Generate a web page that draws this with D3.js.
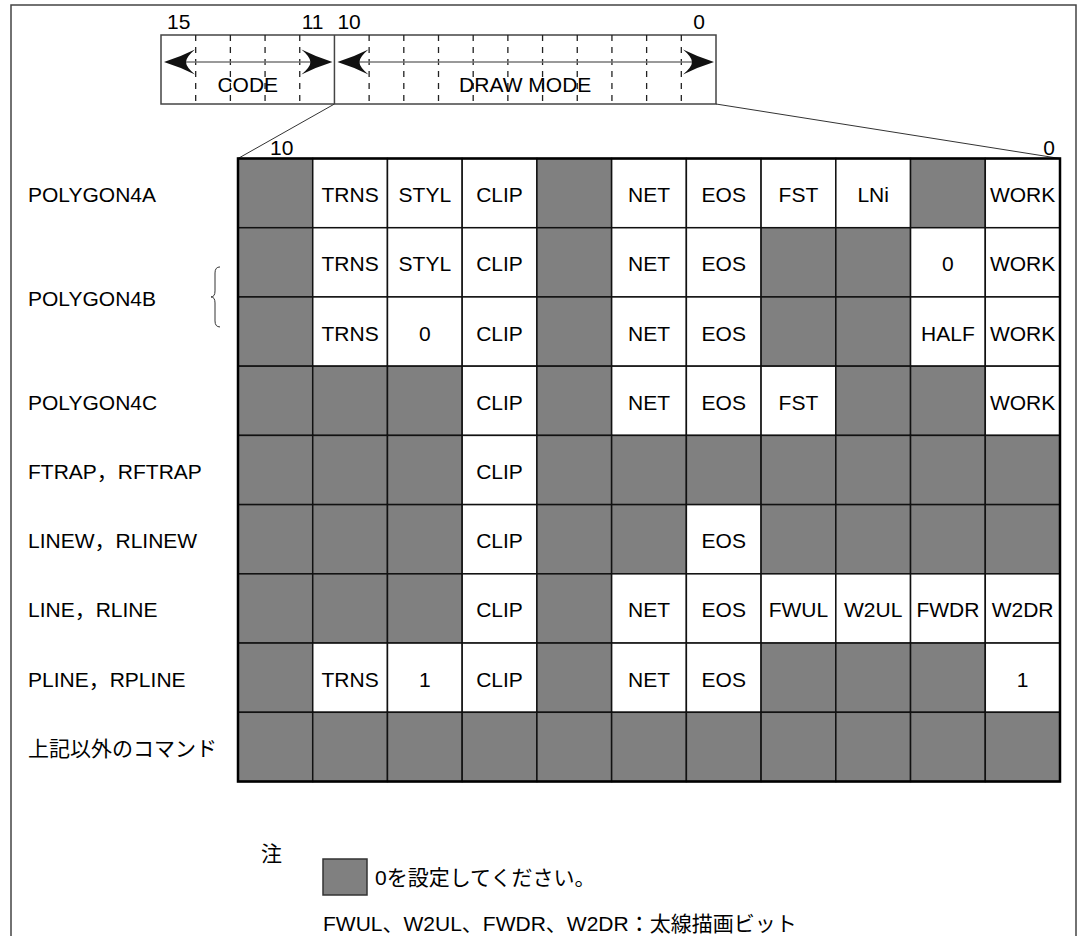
<!DOCTYPE html>
<html><head><meta charset="utf-8">
<script src="https://cdn.jsdelivr.net/npm/d3@7"></script>
<style>
html,body{margin:0;padding:0;background:#fff;}
svg{display:block;}
text{font-family:"Liberation Sans","Noto Sans CJK JP",Arial,sans-serif;fill:#000;}
</style></head>
<body>
<svg id="c" width="1080" height="936"></svg>
<script>
// ---- data ----
const registerBits = [15,14,13,12,11,10,9,8,7,6,5,4,3,2,1,0];
const registerFields = [
  {name:"CODE", hi:15, lo:11},
  {name:"DRAW MODE", hi:10, lo:0}
];
const registerTickLabels = [
  {bit:15, label:"15", side:"hi"},
  {bit:11, label:"11", side:"lo"},
  {bit:10, label:"10", side:"hi"},
  {bit:0,  label:"0",  side:"lo"}
];
const gridBits = [10,9,8,7,6,5,4,3,2,1,0];
const rowKeys = ["r1","r2","r3","r4","r5","r6","r7","r8","r9"];
const rowLabels = [
  {label:"POLYGON4A", rows:["r1"]},
  {label:"POLYGON4B", rows:["r2","r3"], brace:true},
  {label:"POLYGON4C", rows:["r4"]},
  {label:"FTRAP，RFTRAP", rows:["r5"]},
  {label:"LINEW，RLINEW", rows:["r6"]},
  {label:"LINE，RLINE", rows:["r7"]},
  {label:"PLINE，RPLINE", rows:["r8"]},
  {label:"上記以外のコマンド", rows:["r9"]}
];
// null = reserved (set to 0), shown grey
const cells = {
  r1:[null,"TRNS","STYL","CLIP",null,"NET","EOS","FST","LNi",null,"WORK"],
  r2:[null,"TRNS","STYL","CLIP",null,"NET","EOS",null,null,"0","WORK"],
  r3:[null,"TRNS","0","CLIP",null,"NET","EOS",null,null,"HALF","WORK"],
  r4:[null,null,null,"CLIP",null,"NET","EOS","FST",null,null,"WORK"],
  r5:[null,null,null,"CLIP",null,null,null,null,null,null,null],
  r6:[null,null,null,"CLIP",null,null,"EOS",null,null,null,null],
  r7:[null,null,null,"CLIP",null,"NET","EOS","FWUL","W2UL","FWDR","W2DR"],
  r8:[null,"TRNS","1","CLIP",null,"NET","EOS",null,null,null,"1"],
  r9:[null,null,null,null,null,null,null,null,null,null,null]
};
const gridTickLabels = [{bit:10,label:"10"},{bit:0,label:"0"}];
const noteMark = "注";
const noteGrey = "0を設定してください。";
const noteBits = "FWUL、W2UL、FWDR、W2DR：太線描画ビット";

// ---- drawing ----
const GREY = "#808080";
const FS = 21;
const svg = d3.select("#c");

// outer frame
svg.append("path").attr("d","M11,940 L11,5 L1076,5 L1076,940")
  .attr("fill","none").attr("stroke","#444").attr("stroke-width",1.5);

// register
const rx = d3.scaleLinear().domain([16,0]).range([161,716]);
const regTop = 35, regBot = 104, arrowY = 62;
const reg = svg.append("g");
reg.append("rect").attr("x",rx(16)).attr("y",regTop).attr("width",rx(0)-rx(16)).attr("height",regBot-regTop)
  .attr("fill","#fff").attr("stroke","#444").attr("stroke-width",1.5);
// dashed bit boundaries
const edges = d3.range(1,16).filter(e=>e!==11);
reg.selectAll("line.dash").data(edges).join("line")
  .attr("x1",d=>rx(d)).attr("x2",d=>rx(d)).attr("y1",regTop).attr("y2",regBot)
  .attr("stroke","#222").attr("stroke-width",1.3).attr("stroke-dasharray","6,6");
reg.append("line").attr("x1",rx(11)).attr("x2",rx(11)).attr("y1",regTop).attr("y2",regBot)
  .attr("stroke","#444").attr("stroke-width",1.5);
// field arrows
registerFields.forEach(f=>{
  const x1 = rx(f.hi+1)+3, x2 = rx(f.lo)-2;
  reg.append("line").attr("x1",x1+20).attr("x2",x2-20).attr("y1",arrowY).attr("y2",arrowY)
    .attr("stroke","#777").attr("stroke-width",1.5);
  const head = (tip,dir)=>`M${tip},${arrowY} Q${tip+dir*16},${arrowY-5} ${tip+dir*31},${arrowY-12.5} Q${tip+dir*22},${arrowY-5} ${tip+dir*22},${arrowY} Q${tip+dir*22},${arrowY+5} ${tip+dir*31},${arrowY+12.5} Q${tip+dir*16},${arrowY+5} ${tip},${arrowY} Z`;
  reg.append("path").attr("d",head(x1,1)).attr("fill","#111");
  reg.append("path").attr("d",head(x2,-1)).attr("fill","#111");
  reg.append("text").attr("x",(rx(f.hi+1)+rx(f.lo))/2).attr("y",92)
    .attr("text-anchor","middle").attr("font-size",FS).text(f.name);
});
registerTickLabels.forEach(t=>{
  const x = t.side==="hi" ? rx(t.bit+1)+(t.bit===15?6:3) : rx(t.bit)-11;
  reg.append("text").attr("x",x).attr("y",29).attr("font-size",FS)
    .attr("text-anchor", t.side==="hi" ? "start":"end").text(t.label);
});

// grid
const gx = d3.scaleBand().domain(gridBits).range([238,1060]);
const gy = d3.scaleBand().domain(rowKeys).range([158.5,781.5]);
// zoom lines
svg.append("line").attr("x1",rx(11)).attr("y1",regBot).attr("x2",gx(10)).attr("y2",gy("r1"))
  .attr("stroke","#333").attr("stroke-width",1);
svg.append("line").attr("x1",rx(0)).attr("y1",regBot).attr("x2",gx(0)+gx.bandwidth()).attr("y2",gy("r1"))
  .attr("stroke","#333").attr("stroke-width",1);
gridTickLabels.forEach(t=>{
  const x = t.bit===10 ? gx(t.bit)+32 : gx(t.bit)+gx.bandwidth()-5;
  svg.append("text").attr("x",x).attr("y",155).attr("font-size",FS)
    .attr("text-anchor", t.bit===10?"start":"end").text(t.label);
});

const cellData = [];
rowKeys.forEach(r=>cells[r].forEach((v,i)=>cellData.push({row:r,bit:gridBits[i],v})));
const grid = svg.append("g");
grid.selectAll("rect.cell").data(cellData).join("rect")
  .attr("x",d=>gx(d.bit)).attr("y",d=>gy(d.row))
  .attr("width",gx.bandwidth()).attr("height",gy.bandwidth())
  .attr("fill",d=>d.v===null?GREY:"#fff")
  .attr("stroke","#111").attr("stroke-width",1.5);
grid.selectAll("text.cell").data(cellData.filter(d=>d.v!==null)).join("text")
  .attr("x",d=>gx(d.bit)+gx.bandwidth()/2).attr("y",d=>gy(d.row)+gy.bandwidth()/2+9)
  .attr("text-anchor","middle").attr("font-size",FS).text(d=>d.v);
grid.append("rect").attr("x",gx(10)).attr("y",gy("r1"))
  .attr("width",gx(0)+gx.bandwidth()-gx(10)).attr("height",gy("r9")+gy.bandwidth()-gy("r1"))
  .attr("fill","none").attr("stroke","#000").attr("stroke-width",2.5);

// row labels
rowLabels.forEach(l=>{
  const top = gy(l.rows[0]), bot = gy(l.rows[l.rows.length-1])+gy.bandwidth();
  const cy = (top+bot)/2;
  svg.append("text").attr("x",28).attr("y",cy+9).attr("font-size",FS).text(l.label);
  if(l.brace){
    const y0 = cy-30, y1 = cy+30, xb = 215;
    svg.append("path")
      .attr("d",`M${xb+5},${y0} Q${xb},${y0} ${xb},${y0+6} L${xb},${cy-6} Q${xb},${cy} ${xb-4},${cy} Q${xb},${cy} ${xb},${cy+6} L${xb},${y1-6} Q${xb},${y1} ${xb+5},${y1}`)
      .attr("fill","none").attr("stroke","#333").attr("stroke-width",1);
  }
});

// notes
svg.append("text").attr("x",261).attr("y",861).attr("font-size",FS).text(noteMark);
svg.append("rect").attr("x",323).attr("y",859).attr("width",44).attr("height",36)
  .attr("fill",GREY).attr("stroke","#333").attr("stroke-width",1.5);
svg.append("text").attr("x",375).attr("y",885).attr("font-size",FS).text(noteGrey);
svg.append("text").attr("x",323).attr("y",931).attr("font-size",FS).text(noteBits);
</script>
</body></html>
